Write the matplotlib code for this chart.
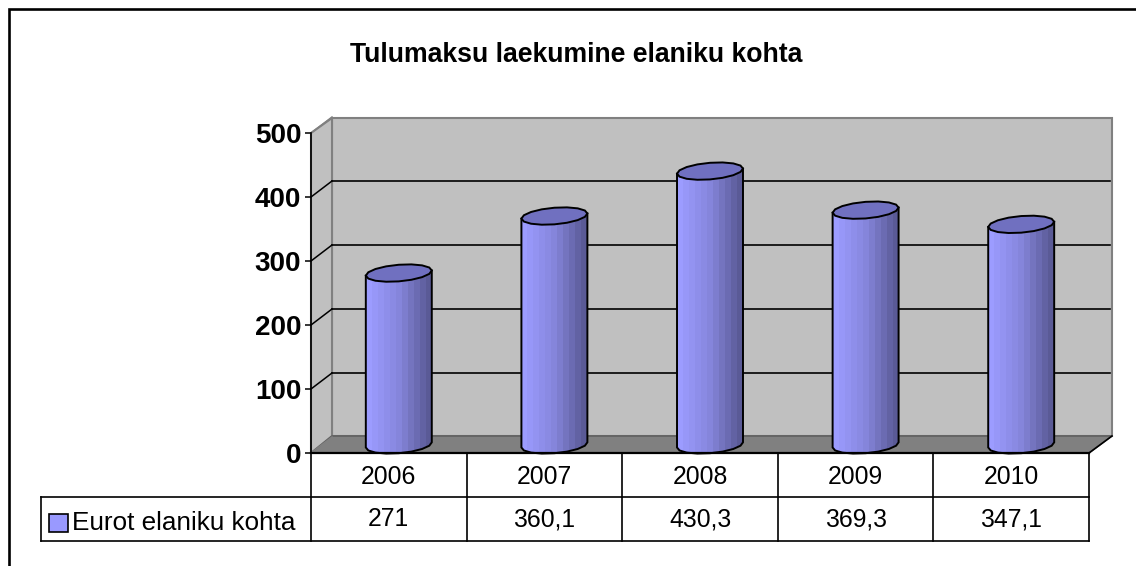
import numpy as np
import matplotlib
matplotlib.use('Agg')
import matplotlib.pyplot as plt
from matplotlib.colors import LinearSegmentedColormap
from matplotlib.patches import Polygon
from matplotlib.transforms import Affine2D, IdentityTransform

years = ['2006', '2007', '2008', '2009', '2010']
values = [271, 360.1, 430.3, 369.3, 347.1]
value_labels = ['271', '360,1', '430,3', '369,3', '347,1']
y_ticks = [0, 100, 200, 300, 400, 500]
title = 'Tulumaksu laekumine elaniku kohta'
series_name = 'Eurot elaniku kohta'

W, H = 1136, 566
plt.rcParams['font.family'] = ['Liberation Sans', 'DejaVu Sans']

fig = plt.figure(figsize=(W / 100, H / 100), dpi=100, facecolor='white')

# pixel axes for the frame, walls and table lines
pax = fig.add_axes([0, 0, 1, 1], zorder=0)
pax.set_xlim(0, W)
pax.set_ylim(H, 0)
pax.axis('off')

# chart axes = the front plane of the 3d box
ax = fig.add_axes([311 / W, (H - 453) / H, 778 / W, 320 / H], zorder=1)
ax.patch.set_visible(False)
ax.set_xlim(-0.5, 4.5)
ax.set_ylim(0, 500)
for s in ax.spines.values():
    s.set_visible(False)

# frame
pax.plot([8.5, 8.5, W], [H, 8.5, 8.5], color='black', lw=1.9, solid_joinstyle='miter')

# walls
gray = '#808080'
pax.add_patch(Polygon([(332, 118), (1112, 118), (1112, 436), (332, 436)], fc='#C0C0C0', ec=gray, lw=1.5))
pax.add_patch(Polygon([(311, 133), (332, 118), (332, 436), (311, 453)], fc='#C0C0C0', ec=gray, lw=1.5))
pax.add_patch(Polygon([(311, 453), (332, 436), (1112, 436), (1089, 453)], fc='#808080', ec='#5a5a5a', lw=1))
pax.plot([1089, 1112], [453, 436], color='black', lw=1.2)

# gridlines on back wall + the diagonals on the side wall
back = ax.transData + Affine2D().translate(21, 16.5)
for v in y_ticks:
    px, py = ax.transData.transform((-0.5, v))
    edge = gray if v in (0, 500) else 'black'
    ax.plot([px, px + 21], [py, py + 16], transform=IdentityTransform(), color=edge, lw=1.1, clip_on=False, zorder=2)
    if v not in (0, 500):
        ax.plot([-0.5, 4.5], [v, v], transform=back, color='black', lw=1.2, clip_on=False, zorder=2)

# cylinders sit at mid depth
mid = ax.transData + Affine2D().translate(10, 6.5)
half_w = 0.212
b = 13.0
shear = 4.0
base_lift = 2.5
t = np.linspace(0, 2 * np.pi, 17)
cmap = LinearSegmentedColormap.from_list('cyl', ['#9C9CFF', '#8686DC', '#5A5A96'])
grad = np.linspace(0, 1, 11).reshape(1, -1)

for i, v in enumerate(values):
    ex = i + half_w * np.cos(t)
    ey = b * np.sin(t) + shear * np.cos(t)
    low = t[:9]
    body_x = np.r_[i + half_w, i + half_w * np.cos(low), i - half_w]
    body_y = np.r_[v + shear, base_lift - b * np.sin(low) + shear * np.cos(low), v - shear]
    ax.add_patch(Polygon(np.c_[body_x, body_y], closed=True, transform=mid, fc='none', ec='black', lw=1.4,
                         zorder=5, clip_on=False))
    im = ax.imshow(grad, cmap=cmap, extent=(i - half_w, i + half_w, -b - 5, v + shear), aspect='auto',
                   transform=mid, interpolation='nearest', zorder=4)
    im.set_clip_path(Polygon(np.c_[body_x, body_y], closed=True, transform=mid))
    ax.add_patch(Polygon(np.c_[ex, v + ey], closed=True, transform=mid, fc='#7070C0', ec='black', lw=1.4,
                         zorder=6, clip_on=False))
ax.set_xlim(-0.5, 4.5)
ax.set_ylim(0, 500)

# axis line and ticks
ax.plot([-0.5, -0.5], [0, 500], color='black', lw=1.2, clip_on=False, zorder=7)
ax.plot([-0.5, 4.5], [0, 0], color='black', lw=1.6, clip_on=False, zorder=7)
ax.set_yticks(y_ticks)
ax.set_yticklabels([str(v) for v in y_ticks], fontsize=20, fontweight='bold')
ax.tick_params(axis='y', length=4.5, width=1.1, pad=2.5)

# category row goes in as x tick labels
ax.set_xticks(range(len(years)))
ax.set_xticklabels(years, fontsize=17.8)
ax.tick_params(axis='x', length=0, pad=9)

# table lines
tx = [311 + 155.6 * k for k in range(6)]
for x in tx:
    pax.plot([x, x], [453, 541], color='black', lw=1.2, zorder=3)
pax.plot([40.5, 40.5], [497, 541], color='black', lw=1.2, zorder=3)
pax.plot([40.5, 1089], [497, 497], color='black', lw=1.2, zorder=3)
pax.plot([40.5, 1089], [541, 541], color='black', lw=1.2, zorder=3)

# value row
row_y = (519.5 - 453) / -320
for i, lab in enumerate(value_labels):
    ax.text(i, row_y, lab, transform=ax.get_xaxis_transform(), ha='center', va='center', fontsize=17.8, clip_on=False)

# legend key in the table
pax.add_patch(Polygon([(49, 514), (68, 514), (68, 532), (49, 532)], fc='#9999FF', ec='black', lw=1.2))
pax.text(72.5, 523.5, series_name, ha='left', va='center', fontsize=18.8)

fig.text(576 / W, 1 - 55 / H, title, ha='center', va='center', fontsize=19.2, fontweight='bold')

fig.savefig('out.png', dpi=100)
